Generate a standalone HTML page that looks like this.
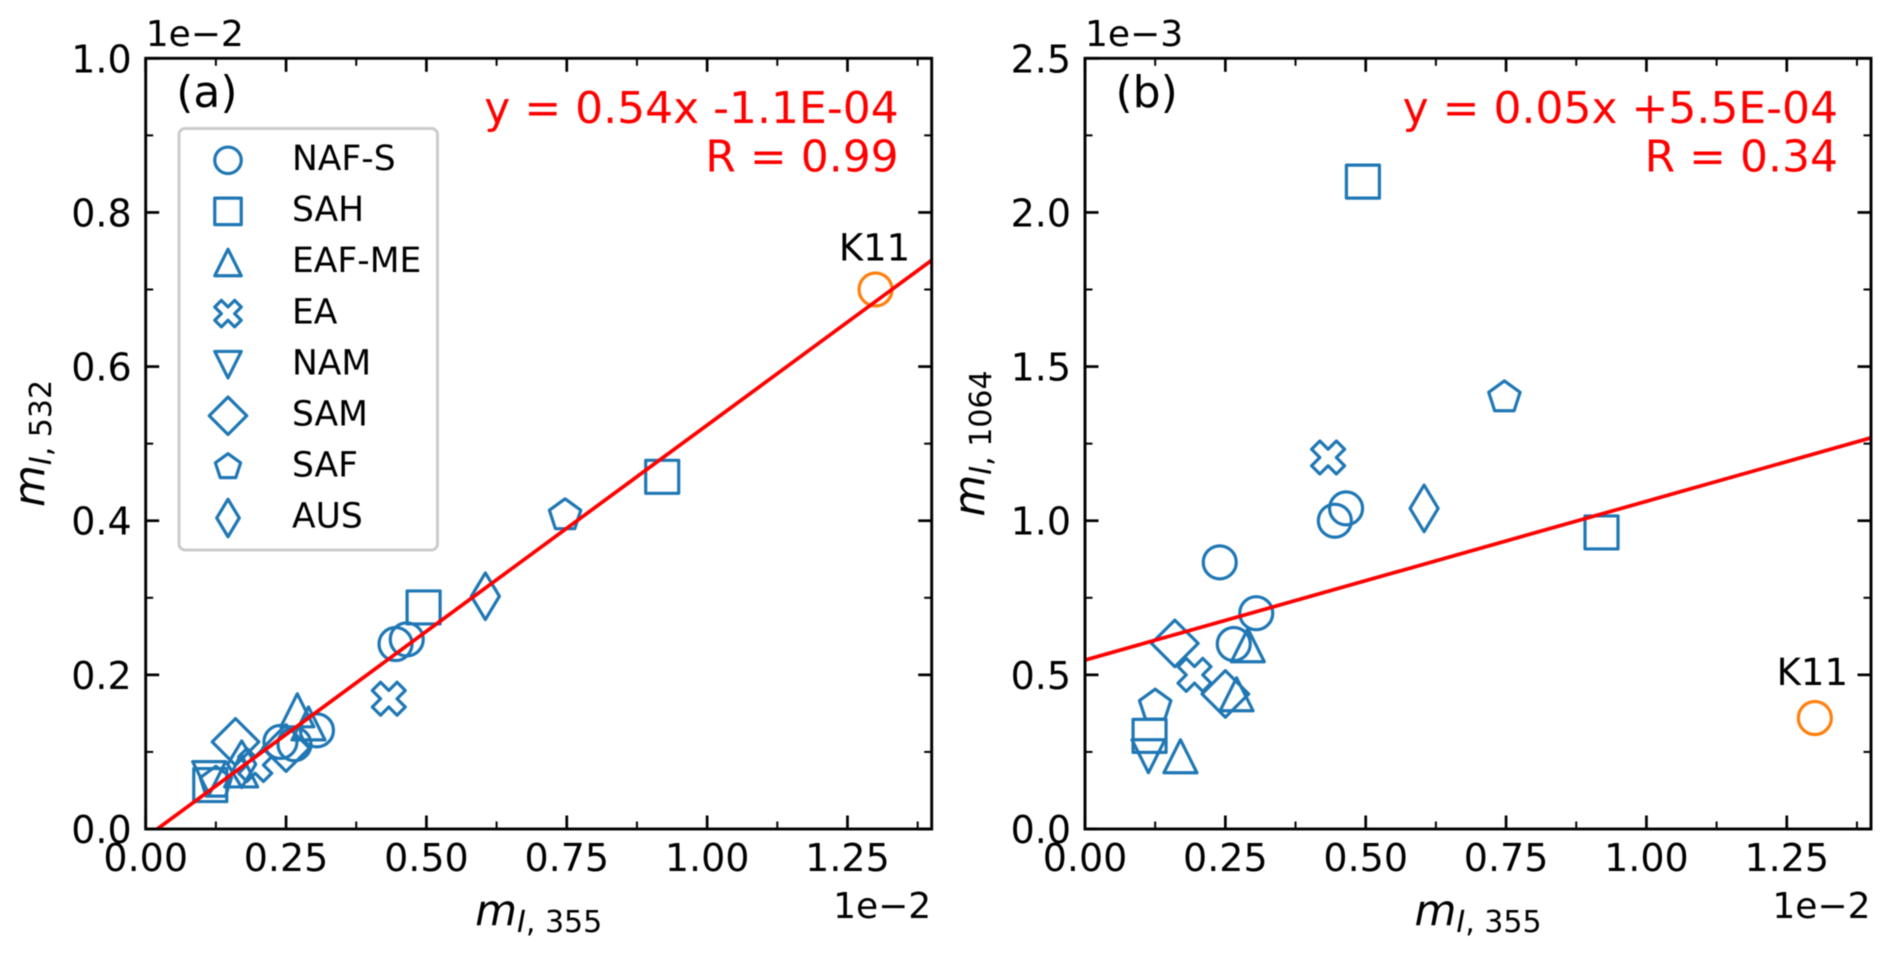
<!DOCTYPE html>
<html lang="en">
<head>
<meta charset="utf-8">
<title>Scatter comparison of imaginary refractive index</title>
<style>
html,body{margin:0;padding:0;background:#fff;width:1892px;height:954px;overflow:hidden}
svg{display:block;filter:blur(0.55px)}
text{font-family:"DejaVu Sans","Liberation Sans",sans-serif;fill:#000}
</style>
</head>
<body>
<svg id="chart" xmlns="http://www.w3.org/2000/svg" width="1892" height="954" viewBox="0 0 1892 954"></svg>
<script>
const categories = ['NAF-S','SAH','EAF-ME','EA','NAM','SAM','SAF','AUS'];

const xNafS = [0.24,0.265,0.305,0.445,0.465];
const yaNafS = [0.113,0.11,0.128,0.24,0.246];
const ybNafS = [0.865,0.6,0.7,1.0,1.04];

const xSah = [0.115,0.495,0.92];
const yaSah = [0.057,0.2875,0.457];
const ybSah = [0.302,2.10,0.962];

const xEafMe = [0.17,0.27,0.29];
const yaEafMe = [0.076,0.154,0.137];
const ybEafMe = [0.236,0.437,0.596];

const xEa = [0.195,0.433];
const yaEa = [0.083,0.169];
const ybEa = [0.50,1.205];

const xNam = [0.113];
const yaNam = [0.066];
const ybNam = [0.236];

const xSam = [0.16,0.25];
const yaSam = [0.113,0.105];
const ybSam = [0.602,0.438];

const xSaf = [0.125,0.747];
const yaSaf = [0.06,0.407];
const ybSaf = [0.40,1.40];

const xAusA = [0.171,0.605];
const yaAus = [0.084,0.302];
const xAusB = [0.604];
const ybAus = [1.04];

const xK11 = [1.30];
const yaK11 = [0.70];
const ybK11 = [0.36];

const fitA = [0.535,-0.011];
const fitB = [0.515,0.548];

const xTicks = [0,0.25,0.5,0.75,1.0,1.25];
const xTickLabels = ['0.00','0.25','0.50','0.75','1.00','1.25'];
const xMinorTicks = [0.125,0.375,0.625,0.875,1.125,1.375];
const yTicksA = [0,0.2,0.4,0.6,0.8,1.0];
const yTickLabelsA = ['0.0','0.2','0.4','0.6','0.8','1.0'];
const yMinorTicksA = [0.1,0.3,0.5,0.7,0.9];
const yTicksB = [0,0.5,1.0,1.5,2.0,2.5];
const yTickLabelsB = ['0.0','0.5','1.0','1.5','2.0','2.5'];
const yMinorTicksB = [0.25,0.75,1.25,1.75,2.25];

const NS = 'http://www.w3.org/2000/svg';
const svg = document.getElementById('chart');
const BLUE = '#1f77b4', ORANGE = '#ff7f0e', RED = '#ff0000';

function make(tag, parent, name, interact, attrs) {
  const el = document.createElementNS(NS, tag);
  
  
  for (const k in attrs) { el.setAttribute(k, attrs[k]); }
  parent.appendChild(el);
  return el;
}

function polyPoints(cx, cy, pts, u) {
  return pts.map(p => (cx + p[0] * u).toFixed(2) + ',' + (cy - p[1] * u).toFixed(2)).join(' ');
}

function marker(parent, kind, cx, cy, s, color, name) {
  const base = {fill: 'none', stroke: color, 'stroke-width': 3.2, 'stroke-linejoin': 'round'};
  const h = s / 2;
  if (kind === 'o') {
    return make('circle', parent, name, 'false', Object.assign({cx: cx, cy: cy, r: h}, base));
  }
  let pts, u = h;
  if (kind === 's') pts = [[-1,-1],[1,-1],[1,1],[-1,1]];
  if (kind === '^') pts = [[0,1],[-1,-1],[1,-1]];
  if (kind === 'v') pts = [[0,-1],[-1,1],[1,1]];
  if (kind === 'D') pts = [[0,1.414],[1.414,0],[0,-1.414],[-1.414,0]];
  if (kind === 'd') pts = [[0,1.414],[0.85,0],[0,-1.414],[-0.85,0]];
  if (kind === 'p') pts = [[0,1],[-0.951,0.309],[-0.588,-0.809],[0.588,-0.809],[0.951,0.309]];
  if (kind === 'X') { u = s / 4; pts = [[-1,-2],[0,-1],[1,-2],[2,-1],[1,0],[2,1],[1,2],[0,1],[-1,2],[-2,1],[-1,0],[-2,-1]]; }
  return make('polygon', parent, name, 'false', Object.assign({points: polyPoints(cx, cy, pts, u)}, base));
}

function subscriptLabel(parent, name, x, y, sub, rotate) {
  const attrs = {x: x, y: y, 'text-anchor': 'middle', 'font-size': 30};
  if (rotate) attrs.transform = 'rotate(-90 ' + x + ' ' + y + ')';
  const t = make('text', parent, name, 'false', attrs);
  const m = document.createElementNS(NS, 'tspan');
  m.setAttribute('font-style', 'oblique');
  m.setAttribute('font-size', '43');
  m.textContent = 'm';
  t.appendChild(m);
  const i = document.createElementNS(NS, 'tspan');
  i.setAttribute('font-style', 'oblique');
  i.setAttribute('font-size', '30');
  i.setAttribute('dy', '7');
  i.textContent = 'I';
  t.appendChild(i);
  const r = document.createElementNS(NS, 'tspan');
  r.setAttribute('font-size', '30');
  r.textContent = ', ' + sub;
  t.appendChild(r);
}

function drawPanel(cfg) {
  const g = make('g', svg, cfg.id + '-panel', 'false', {});
  const L = cfg.left, R = cfg.right, T = 58.3, B = 829;
  const xScale = v => L + (v / 1.4) * (R - L);
  const yScale = v => B - (v / cfg.yMax) * (B - T);

  const marks = make('g', g, cfg.id + '-markers', 'false', {});
  cfg.series.forEach(se => {
    se.x.forEach((xv, i) => {
      marker(marks, se.kind, xScale(xv), yScale(se.y[i]), 33, BLUE, 'point-' + se.label.toLowerCase());
    });
  });
  xK11.forEach((xv, i) => {
    marker(marks, 'o', xScale(xv), yScale(cfg.k11[i]), 33, ORANGE, 'point-k11');
  });

  const x0 = Math.max(0, -cfg.fit[1] / cfg.fit[0]);
  make('line', g, cfg.id + '-regression-line', 'false', {
    x1: xScale(x0), y1: yScale(cfg.fit[0] * x0 + cfg.fit[1]),
    x2: xScale(1.4), y2: yScale(cfg.fit[0] * 1.4 + cfg.fit[1]),
    stroke: RED, 'stroke-width': 3.7
  });

  const ticks = make('g', g, cfg.id + '-ticks', 'false', {});
  const tick = (x1, y1, x2, y2, w, nm) => make('line', ticks, nm, 'false', {x1: x1, y1: y1, x2: x2, y2: y2, stroke: '#000', 'stroke-width': w});
  xTicks.forEach(v => {
    tick(xScale(v), B, xScale(v), B - 13.5, 2.7, 'x-major-tick');
    tick(xScale(v), T, xScale(v), T + 13.5, 2.7, 'x-major-tick-top');
  });
  xMinorTicks.forEach(v => {
    tick(xScale(v), B, xScale(v), B - 7.5, 2, 'x-minor-tick');
    tick(xScale(v), T, xScale(v), T + 7.5, 2, 'x-minor-tick-top');
  });
  cfg.yTicks.forEach(v => {
    tick(L, yScale(v), L + 13.5, yScale(v), 2.7, 'y-major-tick');
    tick(R, yScale(v), R - 13.5, yScale(v), 2.7, 'y-major-tick-right');
  });
  cfg.yMinor.forEach(v => {
    tick(L, yScale(v), L + 7.5, yScale(v), 2, 'y-minor-tick');
    tick(R, yScale(v), R - 7.5, yScale(v), 2, 'y-minor-tick-right');
  });

  make('rect', g, cfg.id + '-axes-frame', 'false', {x: L, y: T, width: R - L, height: B - T, fill: 'none', stroke: '#000', 'stroke-width': 2.9});

  xTicks.forEach((v, i) => {
    const t = make('text', g, 'x-tick-label', 'false', {x: xScale(v), y: 871, 'text-anchor': 'middle', 'font-size': 38});
    t.textContent = xTickLabels[i];
  });
  cfg.yTicks.forEach((v, i) => {
    const t = make('text', g, 'y-tick-label', 'false', {x: L - 14, y: yScale(v) + 14, 'text-anchor': 'end', 'font-size': 38});
    t.textContent = cfg.yLabels[i];
  });

  const off1 = make('text', g, 'y-axis-offset', 'false', {x: L, y: 46, 'font-size': 36});
  off1.textContent = cfg.yOffset;
  const off2 = make('text', g, 'x-axis-offset', 'false', {x: R - 0.5, y: 918, 'text-anchor': 'end', 'font-size': 36});
  off2.textContent = '1e\u22122';

  subscriptLabel(g, 'x-axis-title', (L + R) / 2, 925, '355', false);
  subscriptLabel(g, 'y-axis-title', cfg.ylabelX, 443.5, cfg.ySub, true);

  const pl = make('text', g, 'panel-label', 'false', {x: L + 30.5, y: 107, 'font-size': 44});
  pl.textContent = cfg.tag;
  const eq = make('text', g, 'fit-equation', 'false', {x: R - 33, y: 123, 'text-anchor': 'end', 'font-size': 44, style: 'fill:#ff0000'});
  eq.textContent = cfg.eq;
  const rt = make('text', g, 'fit-correlation', 'false', {x: R - 33, y: 171.5, 'text-anchor': 'end', 'font-size': 44, style: 'fill:#ff0000'});
  rt.textContent = cfg.r;
  const kt = make('text', g, 'k11-label', 'false', {x: xScale(xK11[0]) + cfg.k11Shift, y: yScale(cfg.k11[0]) - cfg.k11Gap, 'text-anchor': 'middle', 'font-size': 37});
  kt.textContent = 'K11';
}

const kinds = ['o','s','^','X','v','D','p','d'];

drawPanel({
  id: 'panel-a', tag: '(a)', left: 145.7, right: 931.7, yMax: 1.0,
  yTicks: yTicksA, yMinor: yMinorTicksA, yLabels: yTickLabelsA, yOffset: '1e\u22122',
  ySub: '532', ylabelX: 44, fit: fitA, k11: yaK11, k11Gap: 29, k11Shift: -1,
  eq: 'y = 0.54x -1.1E-04', r: 'R = 0.99',
  series: [
    {label: categories[0], kind: kinds[0], x: xNafS, y: yaNafS},
    {label: categories[1], kind: kinds[1], x: xSah, y: yaSah},
    {label: categories[2], kind: kinds[2], x: xEafMe, y: yaEafMe},
    {label: categories[3], kind: kinds[3], x: xEa, y: yaEa},
    {label: categories[4], kind: kinds[4], x: xNam, y: yaNam},
    {label: categories[5], kind: kinds[5], x: xSam, y: yaSam},
    {label: categories[6], kind: kinds[6], x: xSaf, y: yaSaf},
    {label: categories[7], kind: kinds[7], x: xAusA, y: yaAus}
  ]
});

drawPanel({
  id: 'panel-b', tag: '(b)', left: 1085, right: 1871, yMax: 2.5,
  yTicks: yTicksB, yMinor: yMinorTicksB, yLabels: yTickLabelsB, yOffset: '1e\u22123',
  ySub: '1064', ylabelX: 984, fit: fitB, k11: ybK11, k11Gap: 33, k11Shift: -2.5,
  eq: 'y = 0.05x +5.5E-04', r: 'R = 0.34',
  series: [
    {label: categories[0], kind: kinds[0], x: xNafS, y: ybNafS},
    {label: categories[1], kind: kinds[1], x: xSah, y: ybSah},
    {label: categories[2], kind: kinds[2], x: xEafMe, y: ybEafMe},
    {label: categories[3], kind: kinds[3], x: xEa, y: ybEa},
    {label: categories[4], kind: kinds[4], x: xNam, y: ybNam},
    {label: categories[5], kind: kinds[5], x: xSam, y: ybSam},
    {label: categories[6], kind: kinds[6], x: xSaf, y: ybSaf},
    {label: categories[7], kind: kinds[7], x: xAusB, y: ybAus}
  ]
});

const legend = make('g', svg, 'legend', 'false', {});
make('rect', legend, 'legend-box', 'false', {x: 179, y: 128.5, width: 258.5, height: 421.5, rx: 6, fill: '#fff', 'fill-opacity': 0.85, stroke: '#cccccc', 'stroke-width': 3});
categories.forEach((label, i) => {
  const row = make('g', legend, 'legend-entry', 'true', {});
  const cy = 160.3 + i * 51.1;
  marker(row, kinds[i], 228, cy, 26.5, BLUE, 'legend-marker');
  const t = make('text', row, 'legend-label', 'false', {x: 292, y: cy + 9.7, 'font-size': 34.5});
  t.textContent = label;
});
</script>
</body>
</html>
